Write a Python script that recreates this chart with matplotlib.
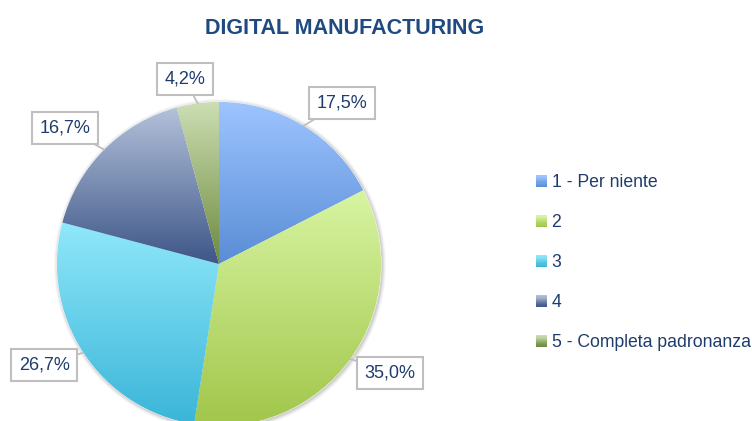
import numpy as np
import matplotlib
matplotlib.use('Agg')
import matplotlib.pyplot as plt
from matplotlib.colors import LinearSegmentedColormap
from matplotlib.patches import Patch, Circle, Rectangle
from matplotlib.legend_handler import HandlerBase

#------------------------------------------------------------
#   DATI
#------------------------------------------------------------
titolo = 'DIGITAL MANUFACTURING'
categorie = ['1 - Per niente', '2', '3', '4', '5 - Completa padronanza']
percentuali = [17.5, 35.0, 26.7, 16.7, 4.2]
etichette = ['17,5%', '35,0%', '26,7%', '16,7%', '4,2%']

# colori del gradiente (alto -> basso) per ogni fetta
col_chiaro = ['#9dc4ff', '#d8f4a2', '#90e8fa', '#b4c1da', '#ccdeb3']
col_scuro = ['#5a8dd6', '#a1c64a', '#3ab5d8', '#3d5688', '#6e8a3f']

# spostamento delle etichette rispetto al bordo della fetta (pixel)
spost = [(38, 23), (40, -14), (-39, -12), (-39, 22), (-13, 24)]

blu_testo = '#1f3c6e'
W, H = 752, 421
centro = (219, H - 264)
raggio = 162

plt.rcParams['font.family'] = ['Liberation Sans', 'DejaVu Sans']


# quadratino della legenda con gradiente verticale (strisce sottili)
class GradHandler(HandlerBase):
    def create_artists(self, legend, orig, xd, yd, width, height, fontsize, trans):
        cmap = LinearSegmentedColormap.from_list('h', [orig.chiaro, orig.scuro])
        n = 10
        out = []
        for k in range(n):
            y0 = yd + height - (k + 1) * height / n
            out.append(Rectangle((xd, y0), width, height / n + 0.3, fc=cmap(k / (n - 1)),
                                 ec='none', transform=trans))
        return out


fig = plt.figure(figsize=(W / 100, H / 100), dpi=100)
ax = fig.add_axes([0, 0, 1, 1])

# ombra leggera
for k, a in [(4, 0.03), (3, 0.04), (2, 0.05), (1, 0.07)]:
    ax.add_patch(Circle((centro[0] + 1, centro[1] - 1), raggio + k, color='#000000', alpha=a, lw=0, zorder=0))

medi = [tuple((np.array(matplotlib.colors.to_rgb(a)) + np.array(matplotlib.colors.to_rgb(b))) / 2)
        for a, b in zip(col_chiaro, col_scuro)]

wedges, _ = ax.pie(percentuali, colors=medi, startangle=90, counterclock=False,
                   center=centro, radius=raggio, frame=True,
                   wedgeprops=dict(edgecolor='white', linewidth=0.6))

for i, w in enumerate(wedges):
    th = np.radians(np.linspace(w.theta1, w.theta2, 200))
    xs = np.concatenate([[w.center[0]], w.center[0] + w.r * np.cos(th)])
    ys = np.concatenate([[w.center[1]], w.center[1] + w.r * np.sin(th)])
    cmap = LinearSegmentedColormap.from_list('g%d' % i, [col_scuro[i], col_chiaro[i]])
    grad = np.linspace(0, 1, 256)[::-1].reshape(-1, 1)
    im = ax.imshow(grad, extent=[xs.min(), xs.max(), ys.min(), ys.max()], cmap=cmap,
                   aspect='auto', origin='upper', zorder=2)
    im.set_clip_path(w)
    w.set_zorder(1)

    # etichetta con riquadro
    mid = np.radians((w.theta1 + w.theta2) / 2)
    px = w.center[0] + w.r * np.cos(mid)
    py = w.center[1] + w.r * np.sin(mid)
    ax.annotate(etichette[i], xy=(px, py), xytext=(px + spost[i][0], py + spost[i][1]),
                ha='center', va='center', fontsize=13, color=blu_testo, zorder=5,
                bbox=dict(boxstyle='square,pad=0.42', fc='white', ec='#bfbfbf', lw=1.5),
                arrowprops=dict(arrowstyle='-', color='#bfbfbf', lw=1.3, shrinkA=0, shrinkB=0))

ax.set_xlim(0, W)
ax.set_ylim(0, H)
ax.axis('off')

fig.text(345 / W, 1 - 28 / H, titolo, ha='center', va='center', fontsize=15.5,
         fontweight='bold', color='#1f4a80')

maniglie = []
for m, c, s in zip(medi, col_chiaro, col_scuro):
    p = Patch(facecolor=m, edgecolor='none')
    p.chiaro, p.scuro = c, s
    maniglie.append(p)
leg = fig.legend(maniglie, categorie, loc='upper left', bbox_to_anchor=(536 / W, 1 - 174 / H),
                 frameon=False, fontsize=12.7, handlelength=0.63, handleheight=0.63,
                 handletextpad=0.25, labelspacing=1.3, borderpad=0, borderaxespad=0,
                 handler_map={Patch: GradHandler()})
for t in leg.get_texts():
    t.set_color(blu_testo)

fig.savefig('out.png', dpi=100)
